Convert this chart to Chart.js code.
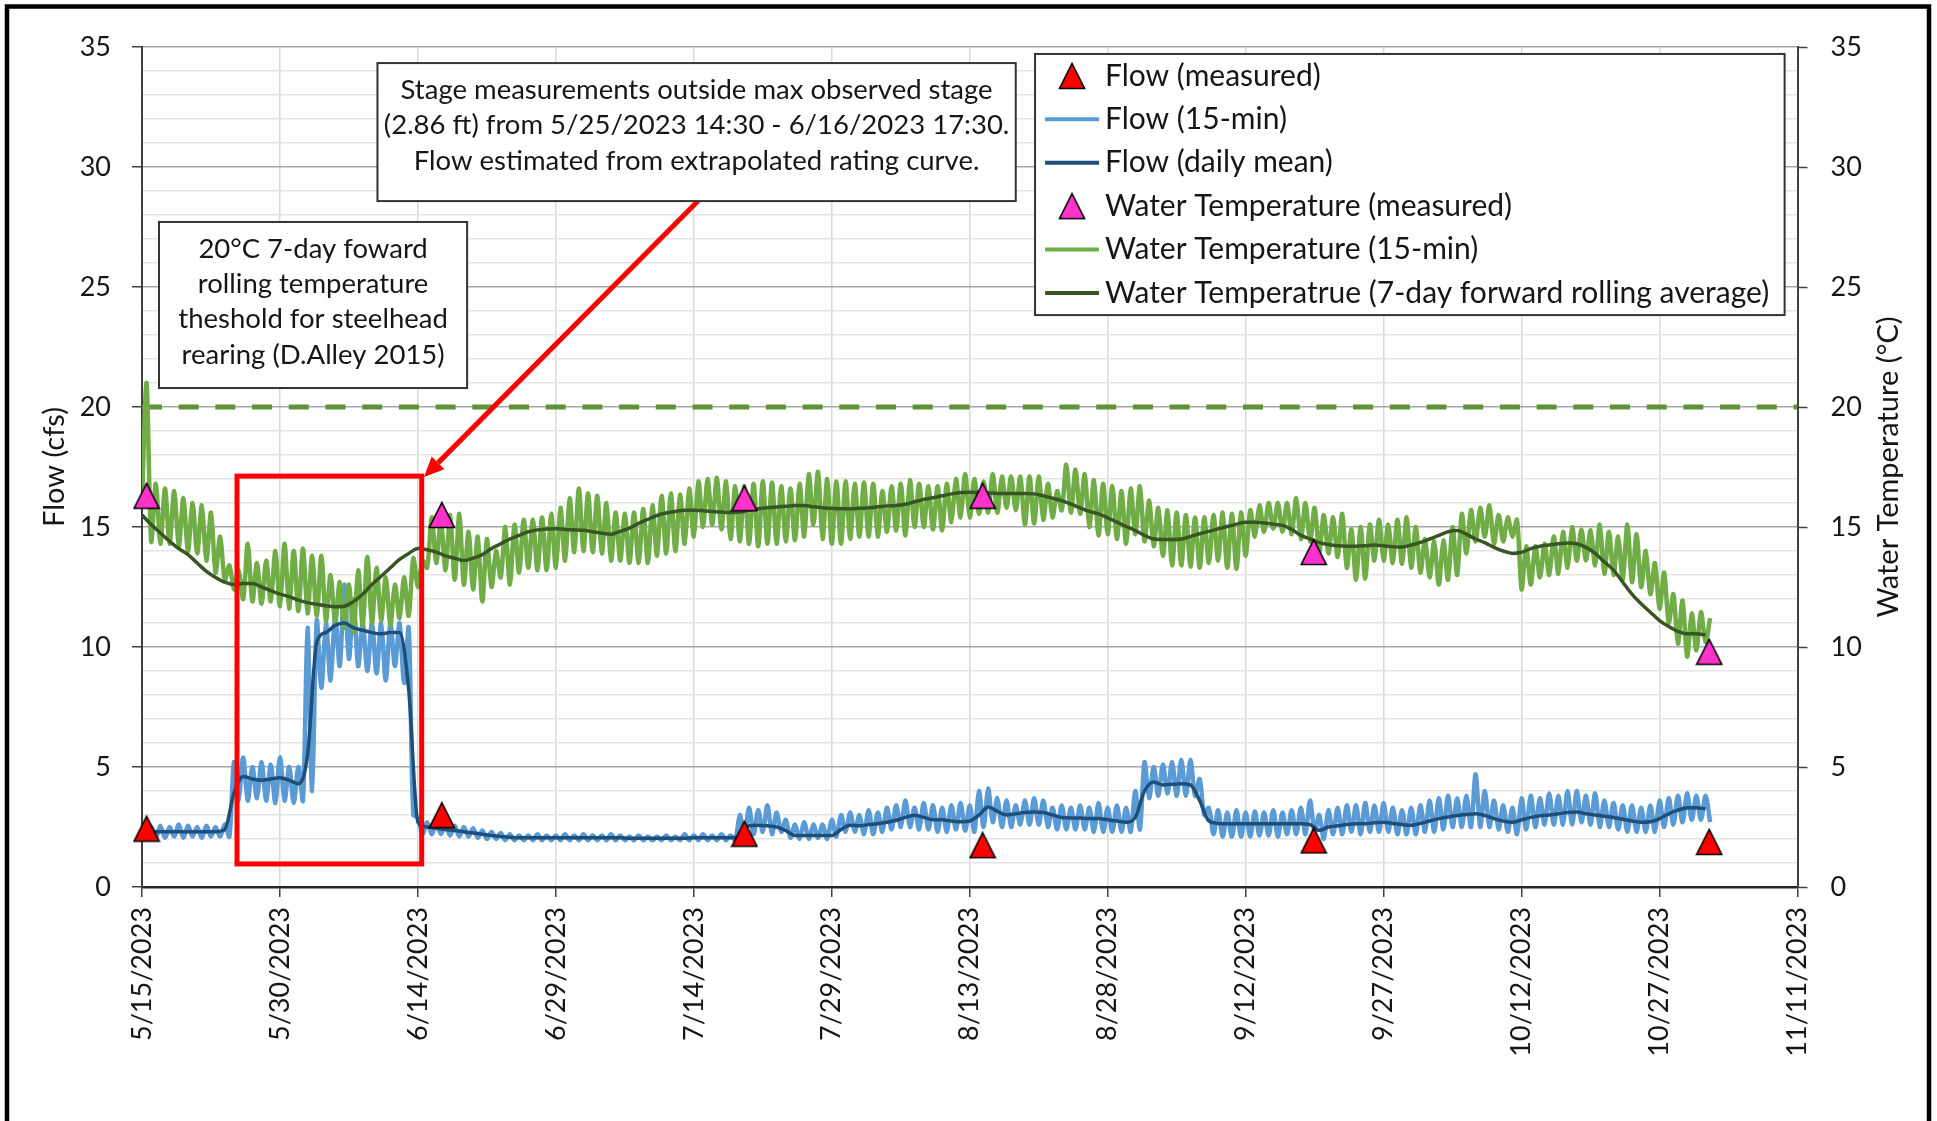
<!DOCTYPE html>
<html>
<head>
<meta charset="utf-8">
<title>Flow and water temperature, 5/15/2023 - 11/11/2023</title>
<script src="https://cdn.jsdelivr.net/npm/chart.js@4.4.1/dist/chart.umd.min.js"></script>
<style>
  html, body { margin: 0; padding: 0; background: #fff; }
  #wrap { width: 1937px; height: 1121px; }
</style>
</head>
<body>
<div id="wrap"><canvas id="flowChart" width="1937" height="1121"></canvas></div>
<script>

const axisStartDate = [2023, 4, 15];
const axisMaxDay = 180;
const dayTickStep = 15;
const thresholdTemp = 20;

// spot measurements (day offset, cfs, deg C)
const measuredDays = [0.5, 32.6, 65.5, 91.4, 127.4, 170.4];
const flowMeasured = [2.43, 2.99, 2.22, 1.74, 1.94, 1.88];
const tempMeasured = [16.3, 15.5, 16.2, 16.3, 13.96, 9.8];

// water temperature, 7-day forward rolling average, one value per day
const tempRolling = [
  15.5, 15.1, 14.75, 14.4, 14.1, 13.85, 13.5, 13.15, 12.9, 12.7,
  12.6, 12.65, 12.65, 12.5, 12.35, 12.2, 12.1, 11.95, 11.85, 11.78,
  11.72, 11.68, 11.7, 11.9, 12.2, 12.6, 12.95, 13.3, 13.65, 13.9,
  14.1, 14.05, 13.95, 13.8, 13.7, 13.6, 13.7, 13.85, 14.1, 14.3,
  14.5, 14.65, 14.8, 14.88, 14.92, 14.93, 14.9, 14.88, 14.86, 14.8,
  14.74, 14.7, 14.82, 14.95, 15.15, 15.32, 15.48, 15.58, 15.65, 15.7,
  15.7, 15.68, 15.65, 15.62, 15.6, 15.62, 15.7, 15.76, 15.8, 15.83,
  15.86, 15.9, 15.9, 15.84, 15.8, 15.78, 15.76, 15.76, 15.78, 15.8,
  15.84, 15.88, 15.9, 15.95, 16.05, 16.15, 16.22, 16.3, 16.38, 16.44,
  16.45, 16.44, 16.42, 16.4, 16.4, 16.4, 16.4, 16.38, 16.3, 16.2,
  16.1, 15.95, 15.8, 15.65, 15.55, 15.38, 15.2, 15.02, 14.85, 14.65,
  14.5, 14.48, 14.48, 14.5, 14.6, 14.72, 14.82, 14.92, 15.02, 15.12,
  15.2, 15.2, 15.17, 15.12, 15.07, 14.9, 14.65, 14.5, 14.35, 14.27,
  14.22, 14.2, 14.2, 14.22, 14.25, 14.22, 14.18, 14.17, 14.25, 14.36,
  14.5, 14.65, 14.8, 14.85, 14.7, 14.5, 14.35, 14.15, 14.0, 13.9,
  13.95, 14.1, 14.2, 14.25, 14.3, 14.33, 14.3, 14.15, 13.9, 13.55,
  13.2, 12.7, 12.2, 11.8, 11.45, 11.1, 10.85, 10.65, 10.55, 10.55, 10.5
];

// water temperature 15-min record, as daily low / daily high
const tempLow = [
  16.0, 14.4, 14.3, 14.3, 14.2, 14.0, 13.9, 13.6, 13.1, 12.8,
  12.4, 12.0, 11.9, 11.8, 11.9, 11.7, 11.6, 11.5, 11.4, 11.3,
  11.1, 11.0, 10.8, 10.6, 10.9, 11.0, 11.1, 10.9, 11.2, 11.3,
  12.5, 13.3, 13.5, 13.2, 12.8, 12.6, 12.4, 11.9, 12.5, 12.9,
  12.6, 13.1, 13.3, 13.2, 13.2, 13.3, 13.6, 13.95, 14.0, 13.95,
  13.9, 13.6, 13.6, 13.5, 13.5, 13.5, 13.8, 13.9, 14.0, 14.3,
  14.6, 15.0, 15.1, 14.9, 14.5, 14.4, 14.3, 14.2, 14.3, 14.3,
  14.4, 14.45, 14.6, 15.1, 14.5, 14.3, 14.3, 14.5, 14.6, 14.6,
  14.6, 14.8, 14.85, 14.65, 15.0, 15.0, 14.9, 14.86, 15.2, 15.4,
  15.4, 15.55, 15.6, 15.6, 15.8, 15.7, 15.1, 15.15, 15.3, 15.4,
  15.7, 15.6, 15.55, 15.0, 14.65, 14.7, 14.5, 14.3, 14.7, 14.4,
  14.2, 13.8, 13.4, 13.4, 13.35, 13.3, 13.5, 13.6, 13.3, 13.26,
  13.8, 14.6, 14.8, 14.93, 14.8, 14.7, 14.5, 14.4, 13.96, 13.9,
  13.75, 13.3, 12.8, 12.85, 13.6, 13.6, 13.5, 13.47, 13.3, 13.1,
  12.9, 12.6, 12.8, 13.0, 13.9, 14.4, 14.6, 14.3, 14.4, 14.6,
  12.4, 12.6, 12.9, 13.0, 13.05, 13.3, 13.6, 13.6, 13.4, 13.05,
  13.0, 12.8, 12.7, 12.5, 12.2, 11.6, 11.0, 10.14, 9.6, 9.86, 10.2
];
const tempHigh = [
  21.0, 16.8, 16.6, 16.5, 16.2, 16.0, 15.9, 15.6, 14.6, 13.4,
  13.2, 14.3, 13.5, 13.6, 14.0, 14.3, 14.0, 14.1, 13.8, 13.8,
  13.0, 12.7, 12.6, 13.2, 13.75, 13.3, 12.9, 12.6, 12.9, 13.7,
  13.6, 15.4, 15.3, 15.5, 15.55, 14.8, 14.6, 14.5, 14.0, 15.0,
  15.1, 15.3, 15.3, 15.4, 15.55, 15.8, 16.2, 16.6, 16.4, 16.3,
  16.0, 15.6, 15.55, 15.6, 15.75, 15.9, 16.3, 16.4, 16.35, 16.6,
  16.9, 17.0, 17.05, 16.9, 16.7, 16.7, 16.8, 16.9, 16.85, 16.7,
  16.6, 16.8, 17.2, 17.3, 17.0, 16.9, 16.9, 16.8, 16.85, 16.8,
  16.5, 16.7, 16.8, 16.95, 16.8, 16.7, 16.7, 16.8, 17.0, 17.2,
  17.0, 16.9, 17.2, 17.1, 17.1, 17.1, 17.1, 17.1, 16.8, 16.5,
  17.6, 17.4, 17.2, 16.95, 16.8, 16.7, 16.5, 16.6, 16.7, 16.1,
  15.8, 15.7, 15.6, 15.5, 15.4, 15.4, 15.5, 15.6, 15.55, 15.6,
  15.7, 15.9, 16.0, 16.0, 16.0, 16.2, 16.0, 15.8, 15.5, 15.4,
  15.55, 14.9, 15.0, 15.1, 15.3, 15.1, 15.3, 15.4, 15.0, 14.5,
  14.4, 14.44, 15.0, 15.55, 15.7, 15.8, 15.9, 15.5, 15.4, 15.3,
  14.2, 14.2, 14.3, 14.6, 14.8, 15.0, 14.9, 14.86, 15.1, 14.8,
  14.6, 15.1, 14.7, 14.0, 13.5, 13.1, 12.2, 11.94, 11.4, 11.45, 11.2
];

// flow, daily mean
const flowMean = [
  2.35, 2.3, 2.3, 2.3, 2.3, 2.3, 2.3, 2.3, 2.3, 2.4,
  3.9, 4.6, 4.5, 4.45, 4.5, 4.55, 4.45, 4.3, 5.5, 10.2,
  10.6, 10.9, 11.0, 10.8, 10.7, 10.6, 10.55, 10.6, 10.6, 8.2,
  2.7, 2.5, 2.45, 2.4, 2.35, 2.3, 2.25, 2.2, 2.15, 2.1,
  2.07, 2.05, 2.05, 2.05, 2.05, 2.05, 2.05, 2.05, 2.05, 2.05,
  2.05, 2.05, 2.05, 2.03, 2.03, 2.03, 2.03, 2.03, 2.03, 2.03,
  2.05, 2.05, 2.05, 2.05, 2.05, 2.1, 2.55, 2.57, 2.55, 2.5,
  2.35, 2.15, 2.15, 2.15, 2.15, 2.15, 2.4, 2.57, 2.55, 2.6,
  2.64, 2.7, 2.78, 2.9, 2.99, 2.9, 2.8, 2.8, 2.75, 2.72,
  2.75, 3.0, 3.33, 3.15, 3.0, 3.05, 3.1, 3.12, 3.1, 3.0,
  2.9, 2.88, 2.87, 2.85, 2.85, 2.8, 2.75, 2.7, 2.9, 4.0,
  4.38, 4.25, 4.28, 4.3, 4.25, 3.6, 2.75, 2.65, 2.64, 2.64,
  2.64, 2.64, 2.64, 2.64, 2.64, 2.64, 2.64, 2.6, 2.36, 2.5,
  2.55, 2.6, 2.64, 2.64, 2.68, 2.7, 2.65, 2.6, 2.57, 2.65,
  2.75, 2.85, 2.92, 2.98, 3.02, 3.05, 2.98, 2.85, 2.75, 2.7,
  2.8, 2.9, 2.97, 3.0, 3.05, 3.1, 3.12, 3.05, 3.0, 2.95,
  2.9, 2.82, 2.75, 2.7, 2.72, 2.85, 3.05, 3.2, 3.3, 3.3, 3.26
];

// flow 15-min record, as daily high / daily low
const flowHigh = [
  2.6, 2.5, 2.55, 2.5, 2.6, 2.55, 2.5, 2.55, 2.5, 2.6,
  5.2, 5.4, 5.0, 5.2, 5.1, 5.4, 5.0, 5.0, 10.8, 11.1,
  11.0, 11.3, 12.6, 12.0, 11.0, 11.0, 11.0, 11.0, 11.0, 10.8,
  2.9, 2.7, 2.65, 2.6, 2.55, 2.5, 2.45, 2.35, 2.3, 2.25,
  2.2, 2.15, 2.15, 2.2, 2.15, 2.15, 2.2, 2.15, 2.2, 2.15,
  2.15, 2.2, 2.15, 2.1, 2.15, 2.1, 2.1, 2.15, 2.1, 2.2,
  2.15, 2.2, 2.15, 2.2, 2.15, 3.0, 3.3, 3.2, 3.4, 3.1,
  2.8, 2.6, 2.7, 2.6, 2.6, 2.8, 3.0, 3.1, 3.0, 3.2,
  3.1, 3.3, 3.4, 3.6, 3.3, 3.5, 3.4, 3.3, 3.4, 3.5,
  3.4, 4.0, 4.1, 3.7, 3.6, 3.4, 3.6, 3.7, 3.6, 3.3,
  3.4, 3.3, 3.4, 3.3, 3.5, 3.3, 3.4, 3.3, 4.0, 5.2,
  5.0, 5.1, 5.2, 5.3, 5.3, 4.5, 3.3, 3.2, 3.1, 3.2,
  3.1, 3.15, 3.1, 3.2, 3.1, 3.2, 3.3, 3.6, 3.0, 3.2,
  3.3, 3.4, 3.4, 3.5, 3.4, 3.5, 3.3, 3.2, 3.3, 3.4,
  3.6, 3.7, 3.8, 3.7, 3.8, 4.7, 4.0, 3.6, 3.4, 3.3,
  3.7, 3.8, 3.7, 3.9, 3.8, 4.0, 4.0, 3.8, 3.9, 3.6,
  3.5, 3.4, 3.4, 3.3, 3.4, 3.6, 3.7, 3.8, 3.9, 3.8, 3.8
];
const flowLow = [
  2.0, 2.05, 2.05, 2.1, 2.05, 2.1, 2.05, 2.1, 2.1, 2.1,
  3.6, 3.6, 3.7, 3.6, 3.5, 3.6, 3.5, 3.6, 4.0, 8.3,
  8.6, 9.2, 9.5, 9.2, 9.0, 8.9, 8.6, 9.2, 8.5, 3.0,
  2.2, 2.2, 2.2, 2.15, 2.1, 2.1, 2.05, 2.0, 2.0, 1.95,
  1.95, 1.95, 1.95, 1.95, 1.95, 1.95, 1.95, 1.95, 1.95, 1.95,
  1.95, 1.95, 1.95, 1.95, 1.95, 1.95, 1.95, 1.95, 1.95, 1.95,
  1.95, 1.95, 1.95, 1.95, 1.95, 2.1, 2.2, 2.3, 2.2, 2.3,
  2.05, 2.0, 2.0, 2.05, 2.0, 2.1, 2.3, 2.3, 2.2, 2.2,
  2.3, 2.4, 2.5, 2.5, 2.4, 2.4, 2.3, 2.3, 2.4, 2.35,
  2.3, 2.5, 2.7, 2.5, 2.5, 2.6, 2.6, 2.6, 2.5, 2.4,
  2.4, 2.4, 2.4, 2.3, 2.3, 2.3, 2.3, 2.3, 2.4, 3.7,
  3.8, 3.9, 3.8, 3.8, 3.8, 3.0, 2.2, 2.1, 2.1, 2.1,
  2.1, 2.15, 2.15, 2.1, 2.2, 2.2, 2.2, 2.3, 2.0, 2.2,
  2.2, 2.3, 2.2, 2.3, 2.3, 2.3, 2.2, 2.2, 2.2, 2.3,
  2.3, 2.4, 2.5, 2.5, 2.5, 2.5, 2.5, 2.4, 2.3, 2.2,
  2.4, 2.5, 2.6, 2.6, 2.6, 2.6, 2.7, 2.6, 2.5, 2.5,
  2.4, 2.3, 2.3, 2.3, 2.3, 2.5, 2.6, 2.7, 2.8, 2.8, 2.7
];

const legendLabels = [
  'Flow (measured)',
  'Flow (15-min)',
  'Flow (daily mean)',
  'Water Temperature (measured)',
  'Water Temperature (15-min)',
  'Water Temperatrue (7-day forward rolling average)'
];
const stageNote = [
  'Stage measurements outside max observed stage',
  '(2.86 ft) from 5/25/2023 14:30 - 6/16/2023 17:30.',
  'Flow estimated from extrapolated rating curve.'
];
const thresholdNote = [
  '20°C 7-day foward',
  'rolling temperature',
  'theshold for steelhead',
  'rearing (D.Alley 2015)'
];

// ---- styling ----
const FONT = 'Lato, "Liberation Sans", sans-serif';
const TEXT = '#161616';
const RED = '#ff0000';
const MAGENTA = '#ff33cc';
const LIGHT_BLUE = '#5b9bd5';
const DARK_BLUE = '#1f4e79';
const GREEN = '#70ad47';
const DARK_GREEN = '#375623';
const DASH_GREEN = '#5f9136';

// annotation placement, in axis units (days, cfs)
const stageBox = {x1: 25.6, x2: 95.0, y1: 34.33, y2: 28.58};
const thresholdBox = {x1: 1.85, x2: 35.35, y1: 27.71, y2: 20.79};
const legendBox = {x1: 97.1, x2: 178.6, y1: 34.71, y2: 23.83};
const redBox = {x1: 10.33, x2: 30.41, y1: 17.12, y2: 0.96};
const arrowFrom = {x: 60.45, y: 28.58};
const arrowTo = {x: 30.66, y: 17.08};

function dayLabel(day) {
  const d = new Date(axisStartDate[0], axisStartDate[1], axisStartDate[2] + day);
  return (d.getMonth() + 1) + '/' + d.getDate() + '/' + d.getFullYear();
}

function triangleIcon(fill) {
  const c = document.createElement('canvas');
  c.width = 28;
  c.height = 28;
  const g = c.getContext('2d');
  g.beginPath();
  g.moveTo(14, 1.5);
  g.lineTo(26.5, 26.5);
  g.lineTo(1.5, 26.5);
  g.closePath();
  g.fillStyle = fill;
  g.fill();
  g.lineWidth = 1.6;
  g.strokeStyle = '#000';
  g.stroke();
  return c;
}
const redTriangle = triangleIcon(RED);
const pinkTriangle = triangleIcon(MAGENTA);

// two points a day: first value at the start of the day, second at midday
function twoPerDay(first, second) {
  const pts = [];
  first.forEach((v, i) => {
    pts.push({x: i, y: v});
    pts.push({x: i + 0.5, y: second[i]});
  });
  return pts;
}
const daily = (values) => values.map((v, i) => ({x: i, y: v}));
const measured = (values) => values.map((v, i) => ({x: measuredDays[i], y: v}));

const major = (ctx) => ctx.tick && ctx.tick.value % 5 === 0;

const decorations = {
  id: 'decorations',
  afterDatasetsDraw(chart) {
    const {ctx, scales: {x, y}} = chart;
    ctx.save();
    // red box around the extrapolated period
    ctx.strokeStyle = RED;
    ctx.lineWidth = 5;
    const l = x.getPixelForValue(redBox.x1), r = x.getPixelForValue(redBox.x2);
    const t = y.getPixelForValue(redBox.y1), b = y.getPixelForValue(redBox.y2);
    ctx.strokeRect(l, t, r - l, b - t);

    // arrow from the note to the box
    const sx = x.getPixelForValue(arrowFrom.x), sy = y.getPixelForValue(arrowFrom.y);
    const ex = x.getPixelForValue(arrowTo.x), ey = y.getPixelForValue(arrowTo.y);
    const ang = Math.atan2(ey - sy, ex - sx);
    const head = 20, half = 9;
    const bx = ex - Math.cos(ang) * head, by = ey - Math.sin(ang) * head;
    ctx.beginPath();
    ctx.moveTo(sx, sy);
    ctx.lineTo(bx, by);
    ctx.stroke();
    ctx.beginPath();
    ctx.moveTo(ex, ey);
    ctx.lineTo(bx + Math.sin(ang) * half, by - Math.cos(ang) * half);
    ctx.lineTo(bx - Math.sin(ang) * half, by + Math.cos(ang) * half);
    ctx.closePath();
    ctx.fillStyle = RED;
    ctx.fill();
    ctx.restore();
  },
  afterDraw(chart) {
    const {ctx, scales: {x, y}, chartArea} = chart;
    ctx.save();

    function frame(box) {
      const l = x.getPixelForValue(box.x1), r = x.getPixelForValue(box.x2);
      const t = y.getPixelForValue(box.y1), b = y.getPixelForValue(box.y2);
      ctx.fillStyle = '#fff';
      ctx.fillRect(l, t, r - l, b - t);
      ctx.strokeStyle = '#333';
      ctx.lineWidth = 2;
      ctx.strokeRect(l, t, r - l, b - t);
      return {l, r, t, b};
    }

    ctx.textBaseline = 'middle';

    // text notes
    ctx.font = '27.5px ' + FONT;
    [[stageBox, stageNote], [thresholdBox, thresholdNote]].forEach(([box, lines]) => {
      const f = frame(box);
      ctx.fillStyle = TEXT;
      ctx.textAlign = 'center';
      lines.forEach((txt, i) => ctx.fillText(txt, (f.l + f.r) / 2, f.t + 27 + i * 35.3));
    });

    // legend
    ctx.font = '30px ' + FONT;
    const lg = frame(legendBox);
    const symbols = [
      {tri: redTriangle}, {line: LIGHT_BLUE}, {line: DARK_BLUE},
      {tri: pinkTriangle}, {line: GREEN}, {line: DARK_GREEN}
    ];
    legendLabels.forEach((label, i) => {
      const cy = lg.t + 22 + i * 43.4;
      const s = symbols[i];
      if (s.tri) {
        ctx.drawImage(s.tri, lg.l + 37 - 14, cy - 14);
      } else {
        ctx.strokeStyle = s.line;
        ctx.lineWidth = 4;
        ctx.beginPath();
        ctx.moveTo(lg.l + 10, cy);
        ctx.lineTo(lg.l + 64, cy);
        ctx.stroke();
      }
      ctx.fillStyle = TEXT;
      ctx.textAlign = 'left';
      ctx.fillText(label, lg.l + 70, cy);
    });

    // axis titles
    ctx.font = '29px ' + FONT;
    const midY = (chartArea.top + chartArea.bottom) / 2;
    ctx.textAlign = 'center';
    ctx.fillStyle = TEXT;
    [[55, 'Flow (cfs)'], [1889, 'Water Temperature (°C)']].forEach(([tx, title]) => {
      ctx.save();
      ctx.translate(tx, midY);
      ctx.rotate(-Math.PI / 2);
      ctx.fillText(title, 0, 0);
      ctx.restore();
    });

    // outer frame of the figure
    ctx.strokeStyle = '#000';
    ctx.lineWidth = 4.5;
    ctx.strokeRect(7, 6.5, 1922, 1300);
    ctx.restore();
  }
};

Chart.defaults.font.family = FONT;
Chart.defaults.font.size = 27;
Chart.defaults.color = TEXT;

new Chart(document.getElementById('flowChart'), {
  type: 'line',
  data: {
    datasets: [
      {
        label: 'Flow (measured)', data: measured(flowMeasured), yAxisID: 'y',
        showLine: false, pointStyle: redTriangle, pointRadius: 14, clip: false, order: 0
      },
      {
        label: 'Water Temperature (measured)', data: measured(tempMeasured), yAxisID: 'y2',
        showLine: false, pointStyle: pinkTriangle, pointRadius: 14, clip: false, order: 0
      },
      {
        label: 'Water Temperatrue (7-day forward rolling average)', data: daily(tempRolling), yAxisID: 'y2',
        borderColor: DARK_GREEN, borderWidth: 3.5, pointRadius: 0, cubicInterpolationMode: 'monotone', order: 1
      },
      {
        label: 'Flow (daily mean)', data: daily(flowMean), yAxisID: 'y',
        borderColor: DARK_BLUE, borderWidth: 3.5, pointRadius: 0, cubicInterpolationMode: 'monotone', order: 2
      },
      {
        label: 'Water Temperature (15-min)', data: twoPerDay(tempLow, tempHigh), yAxisID: 'y2',
        borderColor: GREEN, borderWidth: 4.5, pointRadius: 0, tension: 0.3, borderJoinStyle: 'round', order: 3
      },
      {
        label: 'Flow (15-min)', data: twoPerDay(flowHigh, flowLow), yAxisID: 'y',
        borderColor: LIGHT_BLUE, borderWidth: 4.5, pointRadius: 0, tension: 0.3, borderJoinStyle: 'round', order: 4
      },
      {
        label: 'threshold', data: [{x: 0, y: thresholdTemp}, {x: axisMaxDay, y: thresholdTemp}], yAxisID: 'y2',
        borderColor: DASH_GREEN, borderWidth: 5, borderDash: [20, 16.7], pointRadius: 0, order: 5
      }
    ]
  },
  options: {
    responsive: false,
    animation: false,
    devicePixelRatio: 1,
    layout: {padding: {top: 47, left: 0, right: 0, bottom: 0}},
    plugins: {legend: {display: false}, tooltip: {enabled: false}},
    scales: {
      x: {
        type: 'linear', min: 0, max: axisMaxDay,
        afterFit: (s) => { s.height = 234; },
        ticks: {
          stepSize: dayTickStep, autoSkip: false, minRotation: 90, maxRotation: 90, padding: 10,
          callback: (v) => dayLabel(v)
        },
        grid: {color: '#d9d9d9', lineWidth: 1.5, tickColor: '#404040', tickLength: 10, tickWidth: 1.5},
        border: {color: '#262626', width: 2.5}
      },
      y: {
        position: 'left', min: 0, max: 35,
        afterFit: (s) => { s.width = 142; },
        ticks: {stepSize: 1, autoSkip: false, padding: 21, callback: (v) => (v % 5 === 0 ? v : '')},
        grid: {
          color: (c) => (major(c) ? '#a6a6a6' : '#e4e4e4'),
          lineWidth: 1.5,
          tickColor: (c) => (major(c) ? '#404040' : 'rgba(0,0,0,0)'),
          tickLength: 10, tickWidth: 1.5
        },
        border: {color: '#404040', width: 2}
      },
      y2: {
        position: 'right', min: 0, max: 35,
        afterFit: (s) => { s.width = 139.5; },
        ticks: {stepSize: 1, autoSkip: false, padding: 23, callback: (v) => (v % 5 === 0 ? v : '')},
        grid: {
          drawOnChartArea: false,
          tickColor: (c) => (major(c) ? '#404040' : 'rgba(0,0,0,0)'),
          tickLength: 10, tickWidth: 1.5
        },
        border: {color: '#404040', width: 2}
      }
    }
  },
  plugins: [decorations]
});
</script>
</body>
</html>
